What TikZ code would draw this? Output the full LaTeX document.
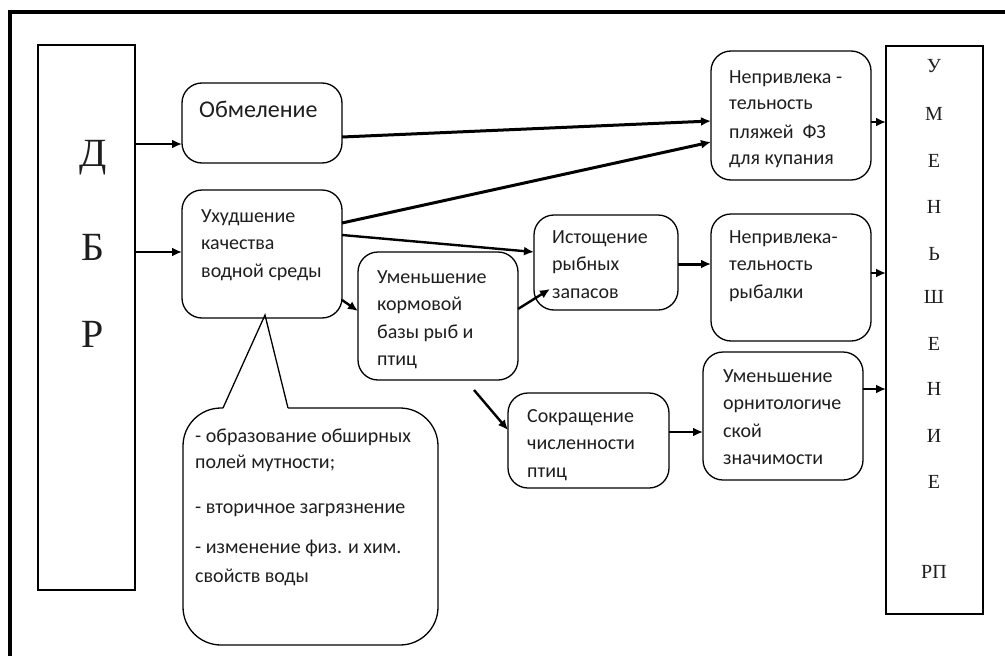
\documentclass[tikz,border=0pt]{standalone}
\usepackage{fontspec}
\newfontfamily\carl{Carlito}
\newfontfamily\lserif{Liberation Serif}
\usetikzlibrary{arrows.meta}
\definecolor{ink}{HTML}{1E1E1E}
\newcommand{\tbox}[2][170pt]{\parbox[t]{#1}{\raggedright #2}}
\begin{document}
\begin{tikzpicture}[x=1pt,y=-1pt,
  box/.style={draw=black, line width=1.3pt, rounded corners=20pt, inner sep=0pt, outer sep=0pt},
  sqbox/.style={draw=black, line width=1.3pt, inner sep=0pt, outer sep=0pt},
  txt/.style={anchor=base west, inner sep=0pt, text=ink, font=\carl\fontsize{20}{27.5}\selectfont},
  bigtxt/.style={anchor=base west, inner sep=0pt, text=ink, font=\carl\fontsize{24}{28}\selectfont},
  bigletter/.style={anchor=base, inner sep=0pt, text=ink, font=\lserif\fontsize{40}{40}\selectfont},
  letter/.style={anchor=base, inner sep=0pt, text=ink, font=\lserif\fontsize{20}{20}\selectfont},
  arr/.style={line width=2.4pt, -{Latex[length=10pt,width=9pt]}},
  thickarr/.style={line width=3pt, -{Latex[length=10pt,width=9pt]}}]
\useasboundingbox (0,0) rectangle (1005,656);
% outer frame
\draw[line width=4pt] (10,656) -- (10,12) -- (1005,12);

% boxes
\node[sqbox, minimum width=97pt, minimum height=545pt] (dbr) at (86.5,317.5) {};
\node[box, minimum width=160pt, minimum height=80pt] (obm) at (262,123) {};
\node[box, minimum width=160pt, minimum height=128pt] (uhud) at (262,254) {};
\node[box, minimum width=160pt, minimum height=128pt] (korm) at (438,316) {};
\node[box, minimum width=144pt, minimum height=95pt] (ist) at (606,262.5) {};
\node[box, minimum width=160pt, minimum height=129pt] (plyazh) at (791,115.5) {};
\node[box, minimum width=160pt, minimum height=127pt] (ryb) at (791,277.5) {};
\node[box, minimum width=161pt, minimum height=95pt] (sokr) at (588.5,440.5) {};
\node[box, minimum width=160pt, minimum height=128pt] (ornit) at (783,416) {};
\node[sqbox, minimum width=97pt, minimum height=568pt] (umen) at (934.5,330) {};

% callout
\coordinate (tip) at ([xshift=3pt,yshift=3pt]uhud.south);
\draw[line width=1.3pt, rounded corners=38pt] (223,408) -- (183,408) -- (183,645) -- (438,645) -- (438,408) -- (288,408);
\draw[line width=1.3pt, line join=miter] (223,408) -- (tip) -- (288,408);

% texts
\node[bigletter] (d1) at (93,166) {Д};
\node[bigletter] (d2) at (93,260) {Б};
\node[bigletter] (d3) at (93,347) {Р};

\node[bigtxt] (obm-t) at (199,117) {Обмеление};
\node[txt] (uhud-t) at (201,222) {\tbox{Ухудшение\\качества\\водной среды}};
\node[txt] (korm-t) at (377,283) {\tbox{Уменьшение\\кормовой\\базы рыб и\\птиц}};
\node[txt] (ist-t) at (552,243) {\tbox{Истощение\\рыбных\\запасов}};
\node[txt] (plyazh-t) at (729,83) {\tbox{Непривлека -\\[-1pt]тельность\\[1pt]пляжей\ \ ФЗ\\[-1pt]для купания}};
\node[txt] (ryb-t) at (729,243) {\tbox{Непривлека-\\тельность\\рыбалки}};
\node[txt] (ornit-t) at (723,382) {\tbox{Уменьшение\\орнитологиче\\ской\\значимости}};
\node[txt] (sokr-t) at (527,422) {\tbox{Сокращение\\численности\\птиц}};
\node[txt] (call-t) at (195,442) {\tbox[240pt]{- образование обширных\\[-1.5pt]полей мутности;\\[17.5pt]- вторичное загрязнение\\[12.5pt]- изменение физ. и хим.\\[1.5pt]свойств воды}};

\node[letter] (u1) at (934,72) {У};
\node[letter] (u2) at (934,120) {М};
\node[letter] (u3) at (934,167) {Е};
\node[letter] (u4) at (934,213) {Н};
\node[letter] (u5) at (934,260) {Ь};
\node[letter] (u6) at (934,303) {Ш};
\node[letter] (u7) at (934,350) {Е};
\node[letter] (u8) at (934,395) {Н};
\node[letter] (u9) at (934,442) {И};
\node[letter] (u10) at (934,488) {Е};
\node[letter] (u11) at (934,578) {РП};

% connectors
\coordinate (a1) at ([yshift=-21pt]obm.west);
\draw[arr] (dbr.east |- a1) -- (a1);
\coordinate (a2) at ([yshift=2pt]uhud.west);
\draw[arr] (dbr.east |- a2) -- (a2);
\draw[thickarr] ([yshift=-14pt]obm.east) -- ([yshift=-5.5pt]plyazh.west);
\draw[thickarr] ([yshift=31pt]uhud.east) -- ([yshift=-26.5pt]plyazh.west);
\draw[arr] ([yshift=19pt]uhud.east) -- ([yshift=10.5pt]ist.west);
\draw[arr] ([yshift=-46pt]uhud.east) -- ([yshift=5pt]korm.west);
\draw[arr] ([yshift=7pt]korm.east) -- ([xshift=16pt,yshift=21pt]ist.south west);
\coordinate (s8) at ([xshift=36pt,yshift=-10pt]korm.south);
\draw[arr] (s8) -- ([yshift=10.5pt]sokr.west);
\coordinate (a9) at ([yshift=13.5pt]ryb.west);
\draw[thickarr] (ist.east |- a9) -- (a9);
\coordinate (a10) at ([yshift=-16pt]ornit.west);
\draw[arr] (sokr.east |- a10) -- (a10);
\coordinate (a11) at ([yshift=208pt]umen.west);
\draw[arr] (plyazh.east |- a11) -- (a11);
\coordinate (a12) at ([yshift=57pt]umen.west);
\draw[arr] (ryb.east |- a12) -- (a12);
\coordinate (a13) at ([yshift=-59pt]umen.west);
\draw[arr] (ornit.east |- a13) -- (a13);
\end{tikzpicture}
\end{document}
